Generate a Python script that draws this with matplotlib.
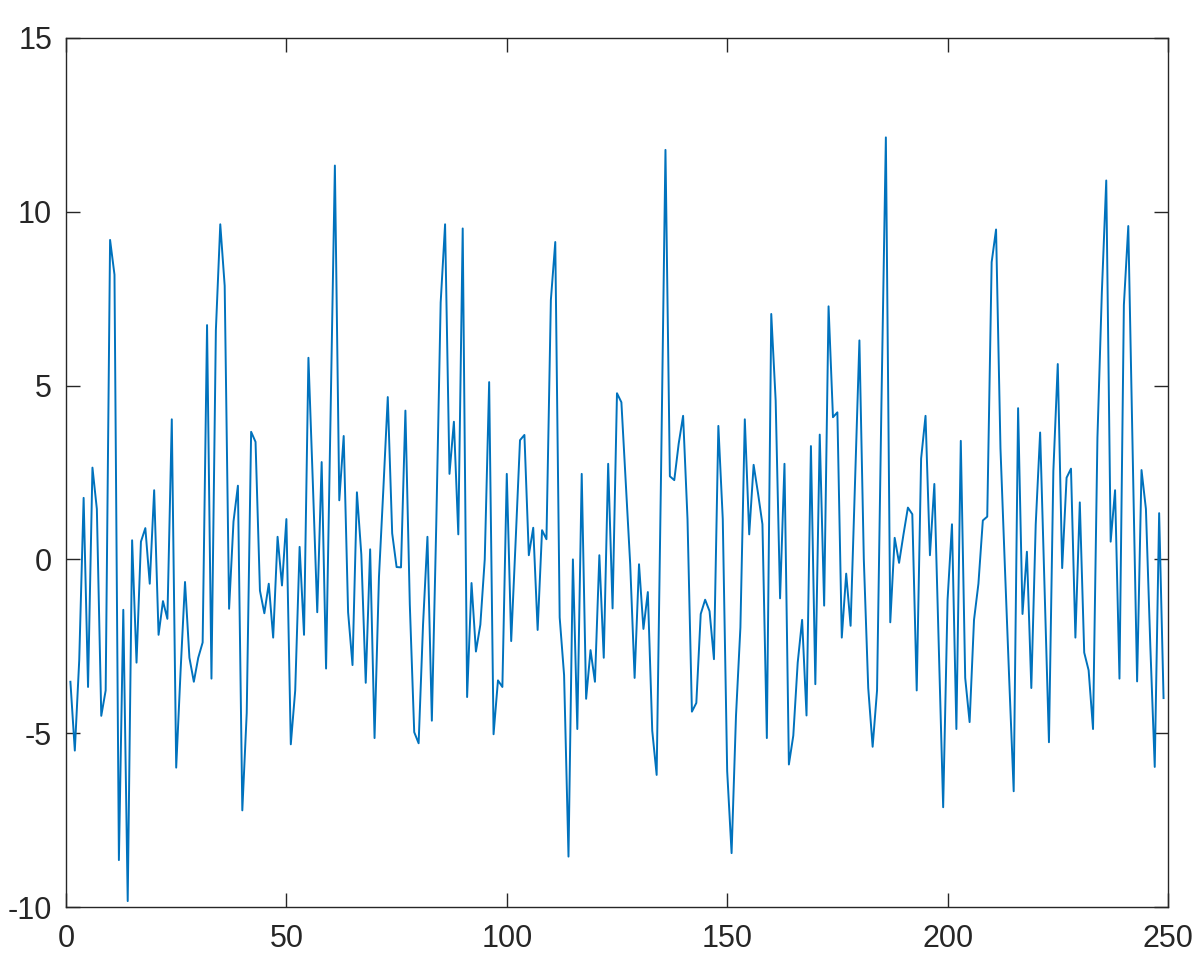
import numpy as np
import matplotlib
matplotlib.use("Agg")
import matplotlib.pyplot as plt

# values, one per sample (x = 1..249)
y_vals = [
    -3.52, -5.5, -2.9, 1.77, -3.67, 2.64, 1.45, -4.5, -3.77, 9.19,
    8.19, -8.65, -1.45, -9.83, 0.55, -2.97, 0.51, 0.9, -0.7, 1.99,
    -2.17, -1.2, -1.71, 4.03, -5.99, -3.2, -0.65, -2.83, -3.52, -2.83,
    -2.39, 6.74, -3.43, 6.59, 9.64, 7.87, -1.42, 1.09, 2.12, -7.22,
    -4.42, 3.67, 3.38, -0.9, -1.55, -0.7, -2.25, 0.65, -0.75, 1.16,
    -5.32, -3.77, 0.36, -2.17, 5.8, 2.2, -1.52, 2.8, -3.14, 4.0,
    11.33, 1.7, 3.55, -1.52, -3.04, 1.93, 0.14, -3.55, 0.29, -5.14,
    -0.51, 2.03, 4.67, 0.75, -0.22, -0.23, 4.28, -1.3, -4.97, -5.29,
    -1.88, 0.65, -4.64, 1.0, 7.39, 9.64, 2.46, 3.96, 0.72, 9.52,
    -3.96, -0.68, -2.65, -1.88, 0.0, 5.1, -5.03, -3.48, -3.67, 2.46,
    -2.35, 0.5, 3.43, 3.58, 0.12, 0.91, -2.03, 0.84, 0.58, 7.46,
    9.13, -1.67, -3.33, -8.55, 0.0, -4.88, 2.46, -4.01, -2.61, -3.52,
    0.12, -2.83, 2.75, -1.41, 4.78, 4.52, 2.17, -0.14, -3.41, -0.14,
    -2.0, -0.94, -4.93, -6.2, 2.5, 11.78, 2.39, 2.28, 3.33, 4.13,
    1.16, -4.38, -4.13, -1.57, -1.16, -1.49, -2.87, 3.84, 1.16, -6.09,
    -8.45, -4.5, -1.96, 4.03, 0.72, 2.72, 1.9, 1.01, -5.14, 7.06,
    4.57, -1.12, 2.75, -5.9, -5.07, -2.97, -1.74, -4.49, 3.26, -3.59,
    3.59, -1.33, 7.28, 4.09, 4.23, -2.25, -0.41, -1.91, 2.2, 6.3,
    0.0, -3.7, -5.39, -3.77, 4.5, 12.14, -1.81, 0.62, -0.1, 0.72,
    1.49, 1.3, -3.77, 2.9, 4.13, 0.12, 2.17, -2.5, -7.13, -1.16,
    1.01, -4.88, 3.41, -3.41, -4.68, -1.74, -0.7, 1.12, 1.23, 8.55,
    9.49, 3.2, -0.2, -3.5, -6.67, 4.35, -1.57, 0.22, -3.7, 1.01,
    3.65, -0.8, -5.26, 2.54, 5.62, -0.25, 2.35, 2.61, -2.25, 1.64,
    -2.68, -3.19, -4.88, 3.5, 7.68, 10.9, 0.51, 1.99, -3.43, 7.32,
    9.59, 3.0, -3.51, 2.57, 1.45, -2.5, -5.97, 1.33, -3.99,
]
x_vals = np.arange(1, len(y_vals) + 1)

x_ticks = [0, 50, 100, 150, 200, 250]
y_ticks = [-10, -5, 0, 5, 10, 15]

plt.rcParams['font.family'] = ['Liberation Sans', 'DejaVu Sans']
plt.rcParams['axes.unicode_minus'] = False

fig = plt.figure(figsize=(12, 9.71), dpi=100)
ax = fig.add_axes([0.055, 0.0659, 0.9183, 0.895])

ax.plot(x_vals, y_vals, color='#0072BD', linewidth=1.4)

ax.set_xlim(0, 250)
ax.set_ylim(-10, 15)
ax.set_xticks(x_ticks)
ax.set_yticks(y_ticks)

for s in ax.spines.values():
    s.set_color('#262626')
    s.set_linewidth(1.0)
ax.tick_params(direction='in', length=10, width=1.0, color='#262626',
               top=True, right=True, labelsize=22, labelcolor='#262626')
ax.tick_params(axis='x', pad=12)
ax.tick_params(axis='y', pad=10)

fig.savefig('out.png', dpi=100, facecolor='white')
